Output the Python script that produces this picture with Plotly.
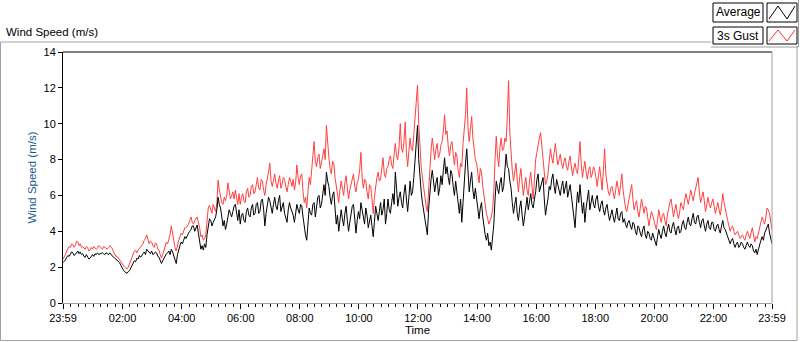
import pandas as pd
import plotly.graph_objects as go

# ---- data (2.5-minute samples), 23:59 -> 23:59 next day ----
start_time = "2020-01-01 23:59"
end_time = "2020-01-02 23:59"
step = "150s"

average = [
    2.25, 2.3, 2.4, 2.55, 2.65, 2.6, 2.75, 2.85, 2.8, 2.65, 2.7, 2.85, 2.9, 2.75, 2.85, 2.7, 2.75, 2.6, 2.55, 2.7, 2.6, 2.45, 2.5, 2.65,
    2.7, 2.6, 2.75, 2.7, 2.8, 2.7, 2.75, 2.8, 2.8, 2.75, 2.7, 2.8, 2.75, 2.7, 2.8, 2.7, 2.65, 2.55, 2.5, 2.45, 2.4, 2.35, 2.25, 2.1,
    1.95, 1.85, 1.75, 1.7, 1.65, 1.75, 1.8, 1.95, 2.1, 2.2, 2.35, 2.3, 2.5, 2.45, 2.65, 2.55, 2.7, 2.75, 2.85, 2.7, 3.0, 2.9, 2.8, 2.75,
    2.9, 2.7, 2.75, 2.85, 2.8, 2.6, 2.55, 2.4, 2.2, 2.35, 2.5, 2.65, 2.75, 2.8, 2.9, 2.7, 3.0, 2.85, 2.6, 2.4, 2.2, 2.7, 3.0, 3.2,
    3.4, 3.3, 3.5, 3.7, 3.6, 3.8, 3.9, 4.0, 4.1, 4.3, 4.3, 4.0, 4.2, 4.35, 3.9, 3.4, 3.0, 3.2, 2.95, 3.3, 3.1, 3.8, 4.4, 4.7,
    4.6, 4.3, 4.5, 4.7, 4.8, 5.2, 5.9, 5.5, 5.3, 4.8, 4.3, 4.6, 4.1, 4.4, 4.9, 5.2, 5.0, 4.8, 5.1, 5.4, 5.5, 5.0, 4.6, 5.2,
    4.4, 4.9, 5.0, 4.6, 4.5, 5.1, 5.3, 4.9, 4.8, 5.3, 5.5, 4.9, 5.0, 5.5, 5.6, 5.0, 5.1, 5.7, 5.8, 5.2, 4.3, 5.0, 5.4, 5.9,
    5.7, 5.2, 5.0, 5.5, 5.9, 5.4, 5.2, 5.7, 6.0, 5.1, 5.3, 5.6, 5.0, 4.8, 4.5, 5.2, 5.6, 5.3, 5.1, 4.9, 4.5, 5.1, 5.5, 5.2,
    5.0, 5.5, 5.4, 4.8, 4.2, 3.8, 3.5, 4.6, 5.3, 5.0, 4.9, 5.5, 5.6, 4.8, 5.4, 5.9, 6.0, 5.3, 5.5, 6.2, 6.6, 6.0, 7.3, 6.8,
    6.5, 5.9, 5.5, 6.0, 6.2, 5.3, 4.4, 4.9, 4.0, 4.6, 5.2, 4.7, 4.3, 5.0, 5.4, 4.6, 4.0, 4.5, 5.0, 5.4, 5.5, 4.7, 3.9, 4.6,
    5.1, 4.7, 5.6, 5.2, 4.8, 4.4, 5.3, 4.9, 4.2, 4.6, 4.9, 4.3, 3.7, 4.5, 5.4, 5.0, 4.6, 5.1, 5.6, 4.9, 5.2, 5.8, 4.4, 5.0,
    5.8, 5.2, 5.0, 5.6, 6.1, 5.5, 7.3, 6.4, 5.4, 5.9, 6.2, 5.6, 5.3, 6.1, 6.6, 5.8, 5.1, 5.9, 6.8, 6.0, 6.2, 7.0, 8.1, 9.0,
    9.9, 8.0, 6.9, 6.2, 5.6, 5.1, 4.8, 4.2, 3.8, 5.2, 6.3, 6.9, 7.4, 6.6, 6.2, 6.7, 7.0, 6.0, 6.4, 7.1, 6.6, 7.4, 8.1, 7.2,
    7.6, 7.0, 6.6, 7.4, 7.2, 6.5, 6.0, 6.8, 6.3, 5.5, 5.0, 5.8, 4.5, 5.6, 6.9, 7.8, 8.6, 7.0, 6.2, 6.8, 7.3, 6.3, 5.8, 6.4,
    5.9, 5.2, 4.7, 5.3, 5.6, 4.8, 4.2, 3.8, 3.5, 3.9, 3.2, 3.4, 2.95, 3.6, 4.4, 5.8, 6.8, 6.4, 6.1, 6.7, 7.0, 6.2, 6.5, 7.4,
    8.3, 7.6, 7.5, 6.8, 6.4, 5.6, 5.0, 5.5, 5.9, 5.0, 4.6, 5.3, 5.7, 4.9, 4.3, 4.8, 5.4, 5.9, 5.2, 5.7, 6.1, 5.5, 5.3, 5.8,
    6.2, 6.9, 7.2, 6.2, 6.5, 6.8, 7.0, 5.8, 4.9, 5.4, 5.8, 6.5, 6.3, 6.9, 7.2, 6.5, 6.1, 6.9, 6.6, 6.3, 6.0, 6.5, 6.8, 6.1,
    6.4, 6.8, 5.9, 6.3, 6.6, 6.0, 5.5, 5.0, 4.2, 5.3, 6.2, 5.6, 6.6, 5.8, 5.0, 5.6, 4.5, 5.3, 5.9, 6.3, 5.2, 5.7, 6.0, 5.5,
    5.3, 5.8, 6.0, 5.4, 5.1, 5.5, 5.7, 5.2, 4.9, 5.3, 5.5, 5.0, 4.6, 4.9, 5.2, 4.8, 4.5, 4.9, 5.3, 4.7, 4.6, 5.0, 5.1, 4.5,
    4.7, 4.4, 4.2, 4.5, 4.6, 4.3, 4.1, 4.5, 4.4, 4.0, 3.8, 4.3, 4.2, 3.9, 3.7, 4.1, 4.3, 3.8, 3.6, 4.0, 3.9, 3.6, 3.5, 3.9,
    3.7, 3.4, 3.2, 3.7, 4.1, 3.8, 3.6, 4.0, 4.3, 3.9, 3.7, 4.1, 4.4, 4.0, 3.9, 4.3, 4.5, 4.1, 3.8, 4.2, 4.3, 3.9, 4.0, 4.4,
    4.6, 4.2, 4.1, 4.5, 4.8, 4.4, 4.3, 4.7, 5.0, 4.5, 4.4, 4.8, 4.9, 4.5, 4.2, 4.6, 4.7, 4.3, 4.0, 4.4, 4.6, 4.2, 4.1, 4.5,
    4.5, 4.1, 4.0, 4.3, 4.4, 4.1, 3.9, 4.3, 4.6, 4.2, 4.1, 3.9, 3.7, 3.5, 3.3, 3.5, 3.6, 3.3, 3.1, 3.3, 3.4, 3.1, 3.2, 3.4,
    3.3, 3.1, 3.0, 3.2, 3.4, 3.2, 3.1, 3.3, 3.2, 2.9, 2.8, 3.0, 2.7, 3.0, 3.3, 3.5, 3.7, 3.5, 3.9, 4.1, 4.2, 4.4, 3.9, 3.6,
    3.3,
]

gust_3s = [
    2.45, 2.55, 2.7, 2.9, 3.0, 3.15, 3.1, 3.3, 3.25, 3.1, 3.2, 3.45, 3.4, 3.2, 3.3, 3.1, 3.15, 3.05, 3.0, 3.15, 3.1, 2.9, 2.95, 3.1,
    3.0, 3.15, 3.1, 3.0, 3.05, 3.2, 3.15, 3.05, 3.0, 3.15, 3.1, 3.05, 3.0, 3.1, 3.2, 3.1, 3.05, 2.85, 2.75, 2.6, 2.6, 2.5, 2.4, 2.3,
    2.2, 2.05, 2.0, 1.95, 1.9, 2.0, 2.2, 2.4, 2.6, 2.8, 2.9, 2.95, 2.8, 2.95, 3.05, 3.1, 3.2, 3.3, 3.5, 3.6, 3.8, 3.5, 3.3, 3.45,
    3.4, 3.2, 3.1, 3.35, 3.3, 3.0, 2.95, 2.7, 2.5, 2.7, 2.9, 3.1, 3.4, 3.3, 3.6, 3.8, 4.3, 3.8, 3.3, 3.1, 2.9, 3.3, 3.5, 3.7,
    3.9, 3.8, 4.05, 4.2, 4.2, 4.3, 4.4, 4.6, 4.8, 4.5, 4.4, 4.6, 4.75, 4.8, 4.5, 4.2, 3.7, 3.8, 3.5, 3.6, 3.8, 4.5, 5.3, 5.45,
    5.2, 5.0, 5.5, 5.3, 5.1, 5.6, 6.85, 6.3, 6.0, 5.6, 5.5, 5.9, 5.7, 6.0, 6.7, 6.2, 5.8, 6.0, 6.2, 5.8, 6.3, 5.9, 5.5, 6.1,
    5.5, 5.9, 6.1, 5.7, 5.6, 6.2, 6.4, 5.9, 6.0, 6.5, 6.6, 6.1, 6.2, 6.6, 7.0, 6.4, 6.3, 6.9, 6.8, 6.3, 6.0, 6.6, 6.9, 7.3,
    7.8, 6.8, 6.5, 6.9, 7.2, 6.7, 6.4, 6.8, 7.1, 6.4, 6.6, 7.0, 6.9, 6.5, 6.2, 6.6, 7.0, 6.8, 6.5, 6.9, 6.3, 6.7, 7.7, 7.0,
    6.6, 7.1, 7.2, 6.2, 5.6, 5.9, 5.3, 6.2, 7.0, 6.6, 7.5, 8.0, 9.0, 7.9, 7.6, 8.1, 8.3, 7.5, 7.8, 8.2, 8.6, 8.0, 9.9, 8.7,
    8.1, 7.5, 7.2, 7.9, 7.8, 7.0, 6.5, 5.9, 5.6, 6.3, 6.8, 6.4, 6.0, 6.7, 7.1, 6.4, 5.8, 6.3, 6.6, 6.9, 7.2, 6.5, 6.2, 6.7,
    6.9, 7.4, 8.4, 7.0, 6.4, 6.9, 6.8, 6.2, 5.8, 6.6, 6.5, 5.8, 5.0, 5.9, 6.6, 7.0, 7.3, 6.8, 6.9, 7.4, 8.1, 7.2, 7.0, 7.5,
    7.6, 8.0, 8.2, 7.7, 7.5, 8.3, 8.9, 8.2, 8.0, 8.7, 10.0, 8.6, 8.4, 9.0, 10.1, 8.4, 7.6, 8.5, 9.2, 8.6, 8.5, 9.4, 10.4, 11.2,
    12.15, 10.0, 8.6, 7.6, 7.0, 6.4, 5.9, 5.4, 5.1, 6.4, 7.6, 8.5, 9.2, 8.4, 8.0, 8.6, 8.9, 8.1, 8.3, 8.8, 9.0, 9.6, 10.5, 9.4,
    9.6, 8.7, 8.2, 8.8, 9.0, 8.3, 7.7, 8.4, 8.2, 7.4, 7.0, 7.8, 7.6, 8.9, 9.8, 10.5, 12.0, 9.8, 9.0, 9.6, 10.4, 9.2, 8.4, 8.0,
    7.8, 7.1, 6.7, 7.5, 7.3, 6.5, 5.9, 5.4, 5.0, 4.7, 4.4, 4.6, 4.8, 5.2, 6.2, 8.0, 9.3, 8.2, 7.6, 8.7, 9.2, 8.5, 8.6, 9.2,
    9.0, 10.5, 12.4, 9.5, 8.3, 7.4, 6.8, 7.3, 7.8, 6.9, 6.2, 7.0, 7.5, 6.7, 6.0, 6.6, 7.0, 6.3, 6.0, 6.8, 7.3, 6.5, 5.8, 6.9,
    8.0, 8.4, 8.9, 9.2, 9.5, 8.6, 8.2, 7.3, 6.6, 6.8, 7.2, 7.9, 8.6, 8.1, 7.8, 8.4, 8.9, 8.2, 7.7, 8.0, 8.3, 7.8, 7.5, 7.9,
    8.1, 7.6, 7.4, 7.9, 8.2, 7.6, 7.1, 7.5, 7.8, 7.4, 7.2, 8.0, 9.0, 7.8, 7.0, 7.5, 7.9, 7.3, 6.9, 7.4, 7.6, 7.0, 7.2, 7.6,
    7.4, 7.0, 6.5, 7.1, 7.6, 7.0, 6.3, 7.4, 8.6, 7.2, 6.6, 6.2, 6.0, 6.4, 6.5, 6.1, 5.8, 6.3, 6.8, 6.4, 6.0, 6.6, 7.2, 6.3,
    5.6, 5.3, 5.1, 5.5, 5.8, 6.1, 6.6, 5.8, 5.2, 5.5, 5.7, 5.1, 4.8, 5.3, 5.8, 5.4, 5.0, 5.4, 5.3, 4.8, 4.3, 4.7, 5.1, 4.9,
    4.6, 4.3, 4.1, 4.6, 5.2, 4.8, 4.5, 4.9, 5.0, 4.6, 4.3, 4.9, 5.4, 5.6, 5.8, 5.2, 4.8, 5.2, 5.5, 5.0, 4.7, 5.1, 5.6, 5.4,
    5.2, 5.7, 6.1, 5.8, 5.5, 5.9, 6.3, 6.0, 5.7, 6.1, 6.4, 6.6, 7.0, 6.2, 5.6, 5.9, 6.2, 5.7, 5.1, 5.5, 5.9, 5.5, 5.3, 5.6,
    5.8, 5.4, 5.0, 5.3, 5.6, 5.2, 4.9, 5.4, 6.1, 5.6, 5.2, 4.9, 4.6, 4.3, 4.0, 4.2, 4.3, 4.0, 3.8, 3.9, 4.0, 3.8, 3.6, 3.7,
    3.8, 3.6, 3.5, 3.8, 4.0, 3.8, 3.6, 3.9, 4.2, 3.8, 3.4, 3.7, 3.6, 3.9, 4.2, 4.5, 4.8, 4.6, 4.4, 4.8, 5.3, 5.2, 5.0, 4.5,
    4.1,
]

series_names = ["Average", "3s Gust"]
y_ticks = [0, 2, 4, 6, 8, 10, 12, 14]
x_tick_labels = ["23:59", "02:00", "04:00", "06:00", "08:00", "10:00", "12:00",
                 "14:00", "16:00", "18:00", "20:00", "22:00", "23:59"]

times = pd.date_range(start=start_time, periods=len(average), freq=step)

tick_vals = [pd.Timestamp(start_time)] + \
    [pd.Timestamp("2020-01-02") + pd.Timedelta(hours=h) for h in range(2, 23, 2)] + \
    [pd.Timestamp(end_time)]
minor_vals = list(pd.date_range("2020-01-02 00:00", "2020-01-02 23:45", freq="15min"))

# ---- layout geometry ----
W, H = 800, 342
ML, MR, MT, MB = 63, 28, 52, 39
PW, PH = W - ML - MR, H - MT - MB


def px(xp):
    return (xp - ML) / PW


def py(yp):
    return (H - MB - yp) / PH


FONT = "Liberation Sans"

fig = go.Figure()
fig.add_trace(go.Scatter(x=times, y=gust_3s, mode="lines", name=series_names[1],
                         line=dict(color="#ff4040", width=1), showlegend=False))
fig.add_trace(go.Scatter(x=times, y=average, mode="lines", name=series_names[0],
                         line=dict(color="#000000", width=1), showlegend=False))

shapes = []
# outer panel (gray)
shapes.append(dict(type="rect", xref="paper", yref="paper",
                   x0=px(0.5), x1=px(797), y0=py(340.5), y1=py(42),
                   line=dict(color="#a0a0a0", width=1), layer="below"))
# plot frame: top black, right gray
shapes.append(dict(type="line", xref="paper", yref="paper", x0=0, x1=1, y0=1, y1=1,
                   line=dict(color="#000000", width=1)))
shapes.append(dict(type="line", xref="paper", yref="paper", x0=1, x1=1, y0=0, y1=1,
                   line=dict(color="#a0a0a0", width=1)))

# legend boxes
rows = [(3, 22, "#000000"), (27, 44, "#ff3030")]
annotations = []
for (y0, y1, col), name in zip(rows, series_names):
    shapes.append(dict(type="rect", xref="paper", yref="paper",
                       x0=px(711), x1=px(798), y0=py(y1 + 2), y1=py(y0 - 2),
                       fillcolor="white", line=dict(width=0)))
    shapes.append(dict(type="rect", xref="paper", yref="paper",
                       x0=px(713), x1=px(763), y0=py(y1), y1=py(y0),
                       line=dict(color="#000000", width=1)))
    shapes.append(dict(type="rect", xref="paper", yref="paper",
                       x0=px(767), x1=px(797), y0=py(y1), y1=py(y0),
                       line=dict(color="#000000", width=1)))
    yb, yt = y1 - 3, y0 + 3
    path = (f"M {px(769)} {py(yb)} L {px(778)} {py(yt)} L {px(787)} {py(yb)} "
            f"L {px(795)} {py(yt)}")
    shapes.append(dict(type="path", xref="paper", yref="paper", path=path,
                       line=dict(color=col, width=1)))
    annotations.append(dict(text=name, xref="paper", yref="paper",
                            x=px(738), y=py((y0 + y1) / 2), xanchor="center",
                            yanchor="middle", showarrow=False,
                            font=dict(family=FONT, size=12, color="#000000")))

shapes.append(dict(type="path", xref="paper", yref="paper",
                   path=f"M {px(711)} {py(47)} L {px(798.5)} {py(47)} L {px(798.5)} {py(0)}",
                   line=dict(color="#a0a0a0", width=1)))

annotations.append(dict(text="Wind Speed (m/s)", xref="paper", yref="paper",
                        x=px(4), y=py(32), xanchor="left", yanchor="middle",
                        showarrow=False,
                        font=dict(family=FONT, size=11.5, color="#000000")))

fig.update_layout(
    width=W, height=H,
    margin=dict(l=ML, r=MR, t=MT, b=MB, autoexpand=False),
    paper_bgcolor="white", plot_bgcolor="white",
    font=dict(family=FONT, size=11, color="#000000"),
    shapes=shapes, annotations=annotations,
    showlegend=False,
    xaxis=dict(
        automargin=False,
        range=[pd.Timestamp(start_time), pd.Timestamp(end_time)],
        tickmode="array", tickvals=tick_vals, ticktext=x_tick_labels,
        ticks="outside", ticklen=5, tickcolor="#000000", tickwidth=1,
        showgrid=False, zeroline=False,
        showline=True, linecolor="#a0a0a0", linewidth=1,
        minor=dict(tickmode="array", tickvals=minor_vals, ticks="outside",
                   ticklen=3, tickcolor="#000000", tickwidth=1, showgrid=False),
        title=dict(text="Time", standoff=2, font=dict(family=FONT, size=11.5)),
        tickfont=dict(family=FONT, size=11),
    ),
    yaxis=dict(
        automargin=False,
        range=[0, 14], tickmode="array", tickvals=y_ticks,
        ticks="outside", ticklen=4, tickcolor="#000000", tickwidth=1,
        showgrid=False, zeroline=False,
        showline=True, linecolor="#000000", linewidth=1,
        title=dict(text="Wind Speed (m/s)", standoff=4,
                   font=dict(family=FONT, size=11.5, color="#1f5a8c")),
        tickfont=dict(family=FONT, size=11),
    ),
)

fig.write_html("out.html",
               config={"displayModeBar": False},
               post_script="document.body.style.margin='0';document.body.style.overflow='hidden';")
